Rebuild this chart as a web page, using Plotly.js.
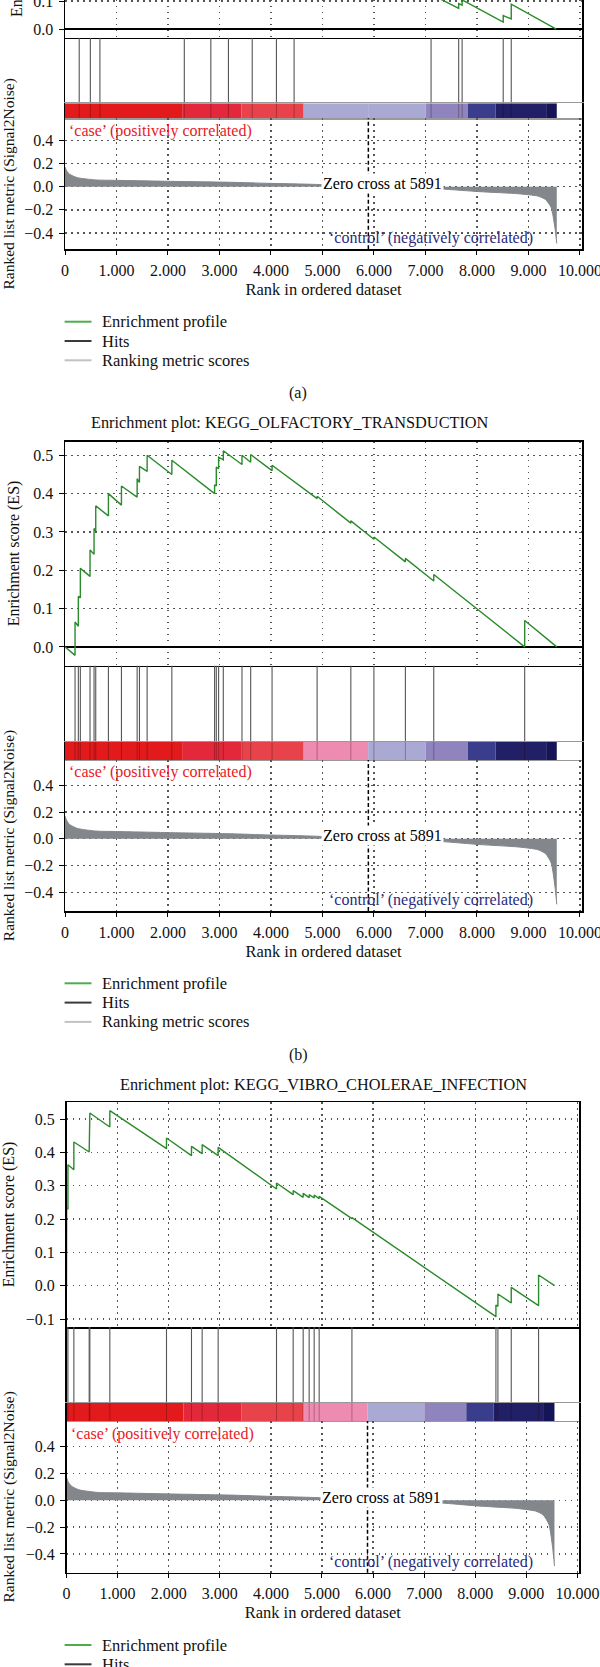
<!DOCTYPE html>
<html><head><meta charset="utf-8">
<script src="https://cdn.plot.ly/plotly-3.0.1.min.js"></script>
<style>html,body{margin:0;padding:0;background:#fff}#chart{width:600px;height:1667px}</style>
</head><body><div id="chart"></div>
<script>
// ---------------- data ----------------
const xTickVals = [0, 1000, 2000, 3000, 4000, 5000, 6000, 7000, 8000, 9000, 10000];
const xTickText = ['0', '1.000', '2.000', '3.000', '4.000', '5.000', '6.000', '7.000', '8.000', '9.000', '10.000'];
const zeroCross = 5891;

// ranked list metric (Signal2Noise), same ranked list for all panels
const metricRank  = [0, 30, 90, 240, 610, 980, 2100, 3220, 3960, 4860, 5891, 7300, 8060, 8808, 9180, 9330, 9441, 9516, 9550];
const metricValue = [0.17, 0.14, 0.107, 0.078, 0.058, 0.055, 0.046, 0.038, 0.029, 0.02, 0.0, -0.02, -0.043, -0.061, -0.081, -0.11, -0.18, -0.36, -0.49];

// heat strip segments (rank edges) and segment colours
const barEdges    = [0, 2288, 3428, 4635, 5887, 7004, 7824, 8361, 9344, 9550];
const barColorsA  = ['#e31a1c', '#e3283b', '#e8434a', '#aaa9d3', '#aaa9d3', '#8f84bd', '#3a3d8b', '#211f66', '#141457'];
const barColorsBC = ['#e31a1c', '#e3283b', '#e8434a', '#ee8bb0', '#aaa9d3', '#8f84bd', '#3a3d8b', '#211f66', '#141457'];

// panel (a)
const hitsA    = [276, 492, 678, 2317, 2832, 3174, 3636, 4106, 4449, 7109, 7645, 7712, 8510, 8666];
const esRankA  = [7109, 7645, 7645, 7712, 7712, 8510, 8510, 8666, 8666, 9540];
const esValueA = [0.124, 0.074, 0.091, 0.085, 0.104, 0.025, 0.048, 0.036, 0.089, 0.0];

// panel (b) KEGG_OLFACTORY_TRANSDUCTION
const hitsB    = [195, 259, 298, 486, 564, 597, 843, 1096, 1401, 1446, 1595, 2075, 2905, 2938, 2983, 3074, 3437, 3606, 4021, 4896, 5551, 5999, 6610, 7161, 8927];
const esRankB  = [0, 195, 195, 259, 259, 298, 298, 486, 486, 564, 564, 597, 597, 843, 843, 1096, 1096, 1401, 1401, 1446, 1446, 1595, 1595, 2075, 2075, 2905, 2905, 2938, 2938, 2983, 2983, 3074, 3074, 3437, 3437, 3606, 3606, 4021, 4021, 4896, 4896, 5551, 5551, 5999, 5999, 6610, 6610, 7161, 7161, 8927, 8927, 9550];
const esValueB = [0, -0.022, 0.065, 0.054, 0.132, 0.128, 0.205, 0.184, 0.253, 0.242, 0.309, 0.302, 0.368, 0.342, 0.400, 0.370, 0.420, 0.391, 0.439, 0.429, 0.471, 0.458, 0.500, 0.450, 0.487, 0.400, 0.423, 0.420, 0.469, 0.465, 0.495, 0.488, 0.512, 0.476, 0.500, 0.482, 0.502, 0.460, 0.474, 0.387, 0.393, 0.323, 0.329, 0.281, 0.287, 0.222, 0.231, 0.172, 0.189, 0.0, 0.069, 0.0];

// panel (c) KEGG_VIBRO_CHOLERAE_INFECTION
const hitsC    = [3, 28, 144, 444, 457, 848, 1957, 2446, 2655, 2968, 4110, 4436, 4632, 4749, 4847, 4945, 5586, 8404, 8443, 8704, 9239];
const esRankC  = [0, 3, 3, 28, 28, 144, 144, 444, 444, 457, 457, 848, 848, 1957, 1957, 2446, 2446, 2655, 2655, 2968, 2968, 4110, 4110, 4436, 4436, 4632, 4632, 4749, 4749, 4847, 4847, 4945, 4945, 5586, 5586, 8404, 8404, 8443, 8443, 8704, 8704, 9239, 9239, 9552];
const esValueC = [0, 0, 0.233, 0.231, 0.363, 0.348, 0.431, 0.401, 0.458, 0.457, 0.518, 0.476, 0.525, 0.411, 0.443, 0.390, 0.418, 0.396, 0.423, 0.390, 0.415, 0.290, 0.308, 0.273, 0.285, 0.265, 0.277, 0.264, 0.273, 0.263, 0.272, 0.261, 0.268, 0.201, 0.204, -0.093, -0.058, -0.062, -0.025, -0.052, -0.005, -0.060, 0.032, 0.0];

const panelTitles = ['', 'Enrichment plot: KEGG_OLFACTORY_TRANSDUCTION', 'Enrichment plot: KEGG_VIBRO_CHOLERAE_INFECTION'];
const panelLabels = ['(a)', '(b)', ''];
const legendNames = ['Enrichment profile', 'Hits', 'Ranking metric scores'];

// ---------------- geometry / style ----------------
const W = 600, H = 1667;
const FONT = '"Liberation Serif", "Times New Roman", serif';
const geom = [
  {x: [65, 582], xmax: 10040, es: [0, 37.7], hits: [37.7, 103.3], cbar: [103.3, 118.3], metric: [118.3, 249.3], esRange: [-0.031, 0.1036], zeroline: true, mirrorTop: false, title: null, label: [298, 392.7], legendY: 321.7},
  {x: [65, 582], xmax: 10040, es: [441.5, 665.5], hits: [665.5, 741.7], cbar: [741.7, 760], metric: [760, 911], esRange: [-0.0485, 0.536], zeroline: true, mirrorTop: true, title: [290, 422.7], label: [298, 1055], legendY: 983.3},
  {x: [66.5, 579], xmax: 10030, es: [1102, 1327], hits: [1327, 1402.7], cbar: [1402.7, 1421], metric: [1421, 1572.7], esRange: [-0.124, 0.551], zeroline: false, mirrorTop: true, title: [323, 1084], label: null, legendY: 1645}
];
const panels = [
  {hits: hitsA, esRank: esRankA, esValue: esValueA, colors: barColorsA},
  {hits: hitsB, esRank: esRankB, esValue: esValueB, colors: barColorsBC},
  {hits: hitsC, esRank: esRankC, esValue: esValueC, colors: barColorsBC}
];
const legColors = ['#4cad4a', '#3a3a3a', '#c2c2c2'];

const grid = {showgrid: true, gridcolor: '#555', gridwidth: 1.3, griddash: '1.5px,4.5px'};
const dom = r => [Math.max(0, 1 - r[1] / H), Math.min(1, 1 - r[0] / H)];
const axKey = (n, a) => a + 'axis' + (n === 1 ? '' : n);
const axRef = (n, a) => a + (n === 1 ? '' : n);

const layout = {
  width: W, height: H, margin: {l: 0, r: 0, t: 0, b: 0},
  paper_bgcolor: 'white', plot_bgcolor: 'white', showlegend: false,
  font: {family: FONT, size: 16, color: '#111'},
  shapes: [], annotations: []
};
const traces = [];

panels.forEach((P, p) => {
  const g = geom[p];
  const n = [1, 2, 3, 4].map(k => p * 4 + k);
  const xd = [g.x[0] / W, g.x[1] / W];
  const xBase = {domain: xd, range: [0, g.xmax], automargin: false, zeroline: false, fixedrange: true, tickvals: xTickVals, ticklabeloverflow: 'allow'};

  // ES subplot
  layout[axKey(n[0], 'x')] = Object.assign({}, xBase, grid, {anchor: axRef(n[0], 'y'), showticklabels: false, ticks: '',
    showline: true, linecolor: '#000', linewidth: 1.5, mirror: g.mirrorTop});
  layout[axKey(n[0], 'y')] = Object.assign({}, grid, {domain: dom(g.es), range: g.esRange, anchor: axRef(n[0], 'x'), automargin: false,
    tick0: 0, dtick: 0.1, tickformat: '.1f', ticks: 'outside', ticklen: 5, tickcolor: '#000', tickfont: {size: 16}, ticklabelstandoff: 2,
    ticklabeloverflow: 'allow',
    showline: true, linecolor: '#000', linewidth: 1.5, mirror: true,
    zeroline: g.zeroline, zerolinecolor: '#000', zerolinewidth: 1.5,
    title: p > 0 ? {text: 'Enrichment score (ES)', font: {size: 16}, standoff: 9} : {text: ''}});

  // hits subplot
  layout[axKey(n[1], 'x')] = Object.assign({}, xBase, {anchor: axRef(n[1], 'y'), showgrid: false, showticklabels: false, ticks: '', showline: false});
  layout[axKey(n[1], 'y')] = {domain: dom(g.hits), range: [0, 1], anchor: axRef(n[1], 'x'), automargin: false, showgrid: false, zeroline: false,
    showticklabels: false, ticks: '', showline: true, linecolor: '#000', linewidth: 1.5, mirror: true};

  // colour strip subplot
  layout[axKey(n[2], 'x')] = Object.assign({}, xBase, {anchor: axRef(n[2], 'y'), showgrid: false, showticklabels: false, ticks: '',
    showline: true, linecolor: '#999', linewidth: 1.2, mirror: true});
  layout[axKey(n[2], 'y')] = {domain: dom(g.cbar), range: [0, 1], anchor: axRef(n[2], 'x'), automargin: false, showgrid: false, zeroline: false,
    showticklabels: false, ticks: '', showline: true, linecolor: '#000', linewidth: 1.5, mirror: true};

  // ranked metric subplot
  layout[axKey(n[3], 'x')] = Object.assign({}, xBase, grid, {anchor: axRef(n[3], 'y'), ticktext: xTickText, ticks: 'outside', ticklen: 4,
    tickcolor: '#000', tickfont: {size: 16}, ticklabelstandoff: 2, showline: true, linecolor: '#000', linewidth: 1.5, mirror: false,
    title: {text: 'Rank in ordered dataset', font: {size: 16.5}, standoff: 5}});
  layout[axKey(n[3], 'y')] = Object.assign({}, grid, {domain: dom(g.metric), range: [-0.54, 0.59], anchor: axRef(n[3], 'x'), automargin: false,
    tick0: 0, dtick: 0.2, tickformat: '.1f', ticks: 'outside', ticklen: 5, tickcolor: '#000', tickfont: {size: 16}, ticklabelstandoff: 2,
    ticklabeloverflow: 'allow',
    showline: true, linecolor: '#000', linewidth: 1.5, mirror: true, zeroline: false,
    title: {text: 'Ranked list metric (Signal2Noise)', font: {size: 15.5}, standoff: 8}});

  // metric area
  traces.push({type: 'scatter', mode: 'lines', x: metricRank, y: metricValue, fill: 'tozeroy', fillcolor: '#83878b',
    line: {color: '#83878b', width: 1, shape: 'spline', smoothing: 0.6}, xaxis: axRef(n[3], 'x'), yaxis: axRef(n[3], 'y'), hoverinfo: 'skip'});

  // colour strip bars
  const mids = [], widths = [], ones = [];
  for (let i = 0; i < barEdges.length - 1; i++) {
    mids.push((barEdges[i] + barEdges[i + 1]) / 2);
    widths.push(barEdges[i + 1] - barEdges[i]);
    ones.push(1);
  }
  traces.push({type: 'bar', x: mids, y: ones, width: widths, base: 0, marker: {color: P.colors, line: {width: 0}},
    xaxis: axRef(n[2], 'x'), yaxis: axRef(n[2], 'y'), hoverinfo: 'skip'});

  // hits
  const hx = [], hy = [];
  P.hits.forEach(h => { hx.push(h, h, null); hy.push(0, 1, null); });
  traces.push({type: 'scatter', mode: 'lines', x: hx, y: hy, line: {color: '#555', width: 1.1},
    xaxis: axRef(n[1], 'x'), yaxis: axRef(n[1], 'y'), hoverinfo: 'skip'});
  traces.push({type: 'scatter', mode: 'lines', x: hx, y: hy, line: {color: 'rgba(40,0,0,0.3)', width: 1},
    xaxis: axRef(n[2], 'x'), yaxis: axRef(n[2], 'y'), hoverinfo: 'skip'});

  // enrichment profile
  traces.push({type: 'scatter', mode: 'lines', x: P.esRank, y: P.esValue, line: {color: '#2b8a2b', width: 1.4},
    xaxis: axRef(n[0], 'x'), yaxis: axRef(n[0], 'y'), hoverinfo: 'skip'});

  // zero cross dashed line
  layout.shapes.push({type: 'line', xref: axRef(n[3], 'x'), yref: axRef(n[3], 'y') + ' domain', x0: zeroCross, x1: zeroCross, y0: 0, y1: 1,
    line: {color: '#000', width: 1.5, dash: '4px,2.5px'}});

  // legend (drawn as key lines + labels)
  legendNames.forEach((nm, i) => {
    const yc = 1 - (g.legendY + i * 19.3) / H;
    layout.shapes.push({type: 'line', xref: 'paper', yref: 'paper', x0: 64.6 / W, x1: 91.5 / W, y0: yc, y1: yc,
      line: {color: legColors[i], width: 2}});
    layout.annotations.push({xref: 'paper', yref: 'paper', x: 100 / W, y: yc, xanchor: 'left', yanchor: 'middle', showarrow: false,
      text: nm, font: {size: 16.5, color: '#111'}});
  });

  // annotations
  const ann = layout.annotations;
  ann.push({xref: axRef(n[3], 'x'), yref: axRef(n[3], 'y'), x: zeroCross, y: 0, xshift: 14, yshift: 3, showarrow: false,
    text: 'Zero cross at ' + zeroCross, bgcolor: '#fff', borderpad: 1, font: {size: 16, color: '#000'}});
  ann.push({xref: axRef(n[3], 'x') + ' domain', yref: axRef(n[3], 'y') + ' domain', x: 0, y: 1, xanchor: 'left', yanchor: 'middle',
    xshift: 2, yshift: -12.5, showarrow: false, text: '\u2018case\u2019 (positively correlated)', font: {size: 16, color: '#e8191f'}});
  ann.push({xref: axRef(n[3], 'x') + ' domain', yref: axRef(n[3], 'y') + ' domain', x: (431 - g.x[0]) / (g.x[1] - g.x[0]), y: 0,
    xanchor: 'center', yanchor: 'middle', yshift: 11, showarrow: false, text: '\u2018control\u2019 (negatively correlated)', font: {size: 16, color: '#2a2a7c'}});
  if (g.title) ann.push({xref: 'paper', yref: 'paper', x: g.title[0] / W, y: 1 - g.title[1] / H, xanchor: 'center', yanchor: 'middle',
    showarrow: false, text: panelTitles[p], font: {size: 16.3, color: '#111'}});
  if (g.label) ann.push({xref: 'paper', yref: 'paper', x: g.label[0] / W, y: 1 - g.label[1] / H, xanchor: 'center', yanchor: 'middle',
    showarrow: false, text: panelLabels[p], font: {size: 16, color: '#111'}});
  if (p === 0) ann.push({xref: 'paper', yref: 'paper', x: 17 / W, y: 1 + 56 / H, xanchor: 'center', yanchor: 'middle', textangle: -90,
    showarrow: false, text: 'Enrichment score (ES)', font: {size: 16, color: '#111'}});
});

Plotly.newPlot('chart', traces, layout, {staticPlot: true, displayModeBar: false});
</script>
</body></html>
